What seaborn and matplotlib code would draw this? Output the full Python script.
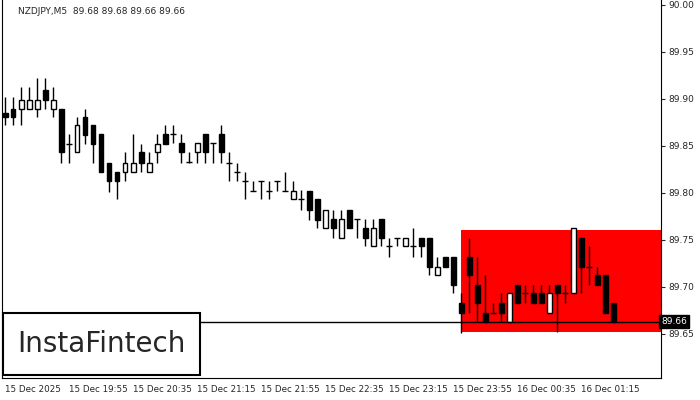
import matplotlib
matplotlib.use("Agg")
import matplotlib.pyplot as plt
import seaborn as sns
import numpy as np
from matplotlib.patches import Rectangle

sns.set_style("white")
plt.rcParams['font.family'] = ['DejaVu Sans']

opens = [89.885,89.889,89.889,89.889,89.889,89.909,89.889,89.889,89.852,89.843,89.881,89.872,89.862,89.832,89.822,89.822,89.822,89.843,89.822,89.843,
         89.862,89.862,89.853,89.833,89.843,89.862,89.853,89.862,89.832,89.822,89.812,89.802,89.812,89.802,89.812,89.802,89.793,89.793,89.802,89.793,
         89.763,89.772,89.752,89.782,89.772,89.763,89.743,89.772,89.743,89.752,89.743,89.743,89.752,89.752,89.713,89.732,89.732,89.683,89.732,89.702,
         89.672,89.672,89.683,89.663,89.702,89.693,89.693,89.693,89.672,89.702,89.693,89.693,89.752,89.721,89.713,89.713,89.683]
closes = [89.881,89.881,89.899,89.899,89.899,89.899,89.899,89.843,89.852,89.872,89.861,89.852,89.822,89.812,89.812,89.832,89.832,89.832,89.832,89.852,
          89.852,89.862,89.843,89.832,89.853,89.843,89.853,89.843,89.832,89.822,89.812,89.802,89.812,89.802,89.812,89.802,89.802,89.793,89.782,89.771,
          89.782,89.763,89.772,89.763,89.772,89.752,89.763,89.752,89.743,89.752,89.752,89.743,89.743,89.721,89.721,89.721,89.702,89.672,89.713,89.683,
          89.663,89.672,89.672,89.693,89.683,89.693,89.683,89.683,89.693,89.693,89.693,89.763,89.721,89.721,89.702,89.672,89.663]
highs = [89.902,89.902,89.912,89.912,89.922,89.922,89.912,89.889,89.862,89.881,89.889,89.872,89.862,89.832,89.822,89.843,89.862,89.852,89.843,89.862,
         89.872,89.872,89.862,89.843,89.853,89.862,89.853,89.872,89.843,89.832,89.822,89.812,89.812,89.812,89.812,89.822,89.812,89.803,89.802,89.793,
         89.782,89.782,89.782,89.782,89.772,89.772,89.772,89.772,89.752,89.752,89.752,89.763,89.752,89.752,89.732,89.732,89.732,89.693,89.752,89.732,
         89.713,89.683,89.693,89.693,89.702,89.702,89.702,89.702,89.702,89.702,89.702,89.763,89.752,89.743,89.721,89.713,89.683]
lows = [89.872,89.872,89.872,89.889,89.881,89.889,89.881,89.832,89.832,89.843,89.852,89.832,89.822,89.801,89.793,89.812,89.822,89.822,89.822,89.832,
        89.852,89.853,89.832,89.832,89.832,89.832,89.832,89.832,89.812,89.812,89.793,89.802,89.793,89.793,89.802,89.802,89.793,89.782,89.771,89.763,
        89.763,89.752,89.752,89.763,89.752,89.743,89.743,89.743,89.732,89.743,89.743,89.732,89.732,89.713,89.713,89.721,89.693,89.651,89.672,89.663,
        89.663,89.672,89.663,89.663,89.683,89.683,89.683,89.683,89.672,89.652,89.683,89.693,89.693,89.702,89.702,89.672,89.663]

time_labels = ["15 Dec 2025","15 Dec 19:55","15 Dec 20:35","15 Dec 21:15","15 Dec 21:55","15 Dec 22:35",
               "15 Dec 23:15","15 Dec 23:55","16 Dec 00:35","16 Dec 01:15"]
ytick_vals = [89.65,89.70,89.75,89.80,89.85,89.90,89.95,90.00]
title_text = "NZDJPY,M5  89.68 89.68 89.66 89.66"
last_price = 89.663
box_start, box_top, box_bottom = 57, 89.760, 89.652

fig = plt.figure(figsize=(7,4), dpi=100)
ax = fig.add_axes([0.003, 22/400, 659/700, 378/400])
n = len(opens)
x = np.arange(n)
o = np.array(opens); c = np.array(closes)
ax.add_patch(Rectangle((box_start, box_bottom), 200, box_top-box_bottom, color='#ff0000', zorder=1, lw=0))
ax.vlines(x, lows, highs, color='black', lw=1, zorder=2)
bottoms = np.minimum(o, c); hts = np.abs(c - o)
bull = c > o
bear = c < o
doji = ~(bull | bear) | (hts < 0.002)
ax.bar(x[bull & ~doji], hts[bull & ~doji], bottom=bottoms[bull & ~doji], width=0.6, color='white', edgecolor='black', lw=1, zorder=3)
ax.bar(x[bear & ~doji], hts[bear & ~doji], bottom=bottoms[bear & ~doji], width=0.6, color='black', edgecolor='black', lw=1, zorder=3)
ax.hlines(o[doji], x[doji]-0.35, x[doji]+0.35, color='black', lw=1, zorder=3)
ax.axhline(last_price, color='black', lw=1, zorder=4)

ax.set_xlim(-0.375, 82.0)
ax.set_ylim(89.603, 90.005)
ax.yaxis.tick_right()
ax.set_yticks(ytick_vals)
ax.set_yticklabels([f"{v:.2f}" for v in ytick_vals], fontsize=6.5)
ax.set_xticks(np.arange(0, 80, 8))
ax.set_xticklabels(time_labels, fontsize=6.3, ha='left')
ax.tick_params(axis='both', length=3, width=0.8, direction='out', pad=2)
for s in ax.spines.values():
    s.set_color('black'); s.set_linewidth(0.8)
ax.spines['top'].set_visible(False)

ax.text(1.0, last_price, "89.66", transform=ax.get_yaxis_transform(), fontsize=6.5, color='white',
        va='center', ha='left', bbox=dict(boxstyle='square,pad=0.25', fc='black', ec='black'), zorder=5, clip_on=False)
fig.text(18/700, 1-12/400, title_text, fontsize=6.5, va='center', ha='left')
fig.patches.append(Rectangle((3/700, 25/400), 197/700, 62/400, transform=fig.transFigure, fc='white', ec='black', lw=1.5, zorder=10))
fig.text(101/700, 56/400, "InstaFintech", fontsize=20, ha='center', va='center', zorder=11)
fig.savefig("out.png", dpi=100)
